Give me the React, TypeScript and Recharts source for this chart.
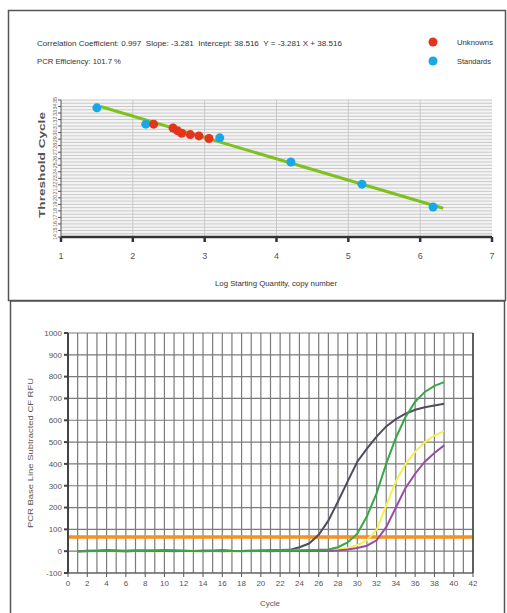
import React from "react";
import {
  ComposedChart,
  LineChart,
  Line,
  Scatter,
  XAxis,
  YAxis,
  CartesianGrid,
  ReferenceLine,
} from "recharts";

// standard curve (top panel)
const logTicks = [1, 2, 3, 4, 5, 6, 7];
const ctTicks = [14, 15, 16, 17, 18, 19, 20, 21, 22, 23, 24, 25, 26, 27, 28, 29, 30, 31, 32, 33, 34, 35];
const standardsX = [1.5, 2.18, 3.21, 4.2, 5.19, 6.18];
const standardsY = [33.8, 31.3, 29.2, 25.5, 22.1, 18.6];
const unknownsX = [2.29, 2.56, 2.62, 2.68, 2.8, 2.92, 3.06];
const unknownsY = [31.3, 30.7, 30.3, 29.9, 29.7, 29.5, 29.1];
const fitX = [1.55, 6.32];
const fitY = [34.0, 18.4];

// amplification curves (bottom panel)
const cycles = [1, 2, 3, 4, 5, 6, 7, 8, 9, 10, 11, 12, 13, 14, 15, 16, 17, 18, 19, 20, 21, 22, 23, 24, 25, 26, 27, 28, 29, 30, 31, 32, 33, 34, 35, 36, 37, 38, 39];
const grayRfu = [0, 2, 3, 4, 3, 2, 4, 3, 2, 4, 3, 2, 1, 2, 3, 4, 2, 1, 2, 3, 4, 5, 6, 18, 35, 75, 140, 228, 320, 410, 470, 525, 572, 605, 630, 648, 660, 668, 676];
const greenRfu = [-2, 0, 1, 2, 1, 0, 1, 2, 3, 4, 3, 2, 1, 0, 1, 2, 1, 0, 1, 2, 2, 3, 3, 4, 5, 6, 8, 18, 40, 80, 160, 265, 400, 520, 615, 685, 730, 758, 775];
const yellowRfu = [0, 1, 2, 1, 0, 1, 2, 1, 0, 1, 2, 1, 0, 1, 2, 1, 0, 1, 2, 1, 1, 2, 2, 3, 3, 4, 5, 8, 15, 28, 50, 97, 210, 320, 400, 455, 500, 530, 550];
const purpleRfu = [0, 1, 1, 2, 1, 0, 1, 1, 2, 1, 0, 1, 1, 2, 1, 0, 1, 1, 2, 1, 0, 1, 1, 1, 1, 1, 1, 3, 8, 15, 25, 50, 110, 200, 290, 355, 410, 450, 485];
const threshold = 65;
const cycleTicks = [0, 2, 4, 6, 8, 10, 12, 14, 16, 18, 20, 22, 24, 26, 28, 30, 32, 34, 36, 38, 40, 42];
const rfuTicks = [-100, 0, 100, 200, 300, 400, 500, 600, 700, 800, 900, 1000];

const standards = standardsX.map((x, i) => ({ x, y: standardsY[i] }));
const unknowns = unknownsX.map((x, i) => ({ x, y: unknownsY[i] }));
const fit = fitX.map((x, i) => ({ x, y: fitY[i] }));
const ctGrid = ctTicks.flatMap((t) => [t, t + 0.5]).filter((v) => v <= 35);

const ampData = cycles.map((c, i) => ({
  cycle: c,
  gray: grayRfu[i],
  green: greenRfu[i],
  yellow: yellowRfu[i],
  purple: purpleRfu[i],
}));
const cycleGrid = Array.from({ length: 43 }, (_, i) => i);

const FONT = "Liberation Sans, Arial, sans-serif";

const CtTick = (props: any) => {
  const { y, payload } = props;
  return (
    <text
      transform={`translate(55,${y}) rotate(-90)`}
      textAnchor="middle"
      dominantBaseline="central"
      fontSize={5.5}
      fill="#666"
      fontFamily={FONT}
    >
      {payload.value}
    </text>
  );
};

const dot = (color: string) => (p: any) => (
  <circle cx={p.cx} cy={p.cy} r={4.5} fill={color} />
);

const tickFont = { fontSize: 8, fill: "#555", fontFamily: FONT };

export default function App() {
  return (
    <div style={{ position: "absolute", left: 0, top: 0, width: 507, height: 613, background: "#fff" }}>
      <div style={{ position: "absolute", left: 0, top: 0 }}>
        <ComposedChart width={507} height={300} margin={{ top: 100, right: 15, bottom: 0, left: 0 }}>
          <CartesianGrid
            fill="#f4f4f4"
            stroke="#c9c9c9"
            horizontalValues={ctGrid}
            verticalValues={[2, 3, 4, 5, 6]}
          />
          <XAxis
            type="number"
            dataKey="x"
            domain={[1, 7]}
            ticks={logTicks}
            height={63}
            tickSize={5}
            tickMargin={11}
            stroke="#333"
            strokeWidth={2.5}
            tick={{ fontSize: 9, fill: "#555", fontFamily: FONT }}
          />
          <YAxis
            type="number"
            dataKey="y"
            domain={[14, 35]}
            ticks={ctTicks}
            width={61}
            tickSize={3}
            stroke="#555"
            tick={<CtTick />}
            interval={0}
          />
          <Scatter
            data={fit}
            line={{ stroke: "#7cc21f", strokeWidth: 3 }}
            shape={() => <g />}
            isAnimationActive={false}
          />
          <Scatter data={standards} shape={dot("#1aa7e8")} isAnimationActive={false} />
          <Scatter data={unknowns} shape={dot("#e5341c")} isAnimationActive={false} />
        </ComposedChart>
      </div>

      <div style={{ position: "absolute", left: 0, top: 300 }}>
        <LineChart width={507} height={313} data={ampData} margin={{ top: 33, right: 0, bottom: 0, left: 0 }}>
          <CartesianGrid stroke="#7a7a7a" strokeWidth={1.2} verticalValues={cycleGrid} yAxisId="left" />
          <XAxis
            type="number"
            dataKey="cycle"
            domain={[0, 42]}
            ticks={cycleTicks}
            interval={0}
            height={40}
            tickSize={4}
            tickMargin={3}
            stroke="#555"
            tick={tickFont}
          />
          <YAxis
            yAxisId="left"
            domain={[-100, 1000]}
            ticks={rfuTicks}
            interval={0}
            width={68}
            tickSize={4}
            tickMargin={2}
            stroke="#444"
            strokeWidth={2}
            tick={tickFont}
          />
          <YAxis
            yAxisId="right"
            orientation="right"
            domain={[-100, 1000]}
            ticks={rfuTicks}
            interval={0}
            width={34}
            tickSize={4}
            tickMargin={2}
            stroke="#444"
            strokeWidth={1.5}
            tick={tickFont}
          />
          <ReferenceLine yAxisId="left" y={threshold} stroke="#f7901e" strokeWidth={3.5} />
          <Line yAxisId="left" dataKey="gray" stroke="#4d4d5c" strokeWidth={2} dot={false} isAnimationActive={false} />
          <Line yAxisId="left" dataKey="yellow" stroke="#f4f24a" strokeWidth={2} dot={false} isAnimationActive={false} />
          <Line yAxisId="left" dataKey="purple" stroke="#9b4aa8" strokeWidth={2} dot={false} isAnimationActive={false} />
          <Line yAxisId="left" dataKey="green" stroke="#35a845" strokeWidth={2} dot={false} isAnimationActive={false} />
        </LineChart>
      </div>

      <svg
        width={507}
        height={613}
        style={{ position: "absolute", left: 0, top: 0, pointerEvents: "none" }}
        fontFamily={FONT}
      >
        <rect x={8.5} y={10.5} width={497} height={290} fill="none" stroke="#555" strokeWidth={1.5} />
        <rect x={10.5} y={301} width={494} height={315} fill="none" stroke="#555" strokeWidth={1.5} />

        <text x={37} y={46} fontSize={7.5} fill="#333" textLength={305} lengthAdjust="spacingAndGlyphs" style={{ whiteSpace: "pre" }}>
          Correlation Coefficient: 0.997  Slope: -3.281  Intercept: 38.516  Y = -3.281 X + 38.516
        </text>
        <text x={37} y={64} fontSize={7.5} fill="#333" textLength={84} lengthAdjust="spacingAndGlyphs">
          PCR Efficiency: 101.7 %
        </text>

        <circle cx={433} cy={42} r={4.5} fill="#e5341c" />
        <text x={457} y={45} fontSize={7.5} fill="#333" textLength={36} lengthAdjust="spacingAndGlyphs">Unknowns</text>
        <circle cx={433} cy={61} r={4.5} fill="#1aa7e8" />
        <text x={457} y={64} fontSize={7.5} fill="#333" textLength={34} lengthAdjust="spacingAndGlyphs">Standards</text>

        <text
          transform="translate(45,165) rotate(-90)"
          textAnchor="middle"
          fontSize={9}
          fontWeight="bold"
          fill="#555"
          textLength={106}
          lengthAdjust="spacingAndGlyphs"
        >
          Threshold Cycle
        </text>
        <text x={276} y={286} textAnchor="middle" fontSize={8} fill="#333" textLength={122} lengthAdjust="spacingAndGlyphs">
          Log Starting Quantity, copy number
        </text>

        <text
          transform="translate(33,453) rotate(-90)"
          textAnchor="middle"
          fontSize={8}
          fill="#555"
          textLength={150}
          lengthAdjust="spacingAndGlyphs"
        >
          PCR Base Line Subtracted CF RFU
        </text>
        <text x={270} y={606} textAnchor="middle" fontSize={8} fill="#555">
          Cycle
        </text>
      </svg>
    </div>
  );
}
